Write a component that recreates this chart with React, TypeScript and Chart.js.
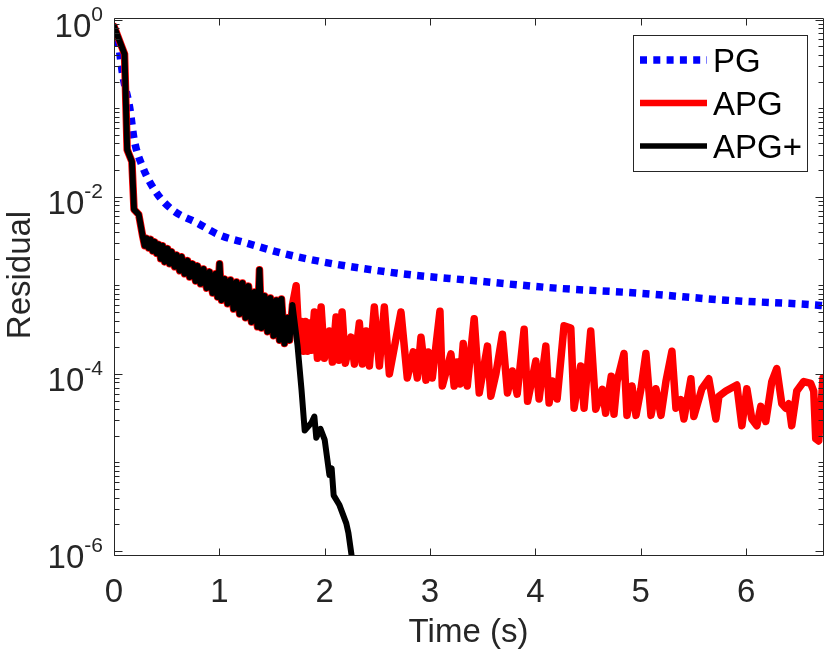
import React, { useEffect, useRef } from 'react';
import Chart from 'chart.js/auto';

// axis ticks
const xTickValues = [0, 1, 2, 3, 4, 5, 6];
const yMajorValues = [1, 1e-2, 1e-4, 1e-6];
const yMajorExponents = ['0', '-2', '-4', '-6'];
const seriesNames = ['PG', 'APG', 'APG+'];

// PG (dotted blue)
const pgTime = [0, 0.04, 0.085, 0.15, 0.19, 0.27, 0.405, 0.556, 0.784, 1.002, 1.258, 1.599, 1.98, 2.395, 2.83, 3.343, 4.196, 4.955, 5.808, 6.661, 6.73];
const pgResidual = [0.84, 0.55, 0.23, 0.1, 0.045, 0.022, 0.011, 7.1e-3, 5.1e-3, 3.7e-3, 3.0e-3, 2.3e-3, 1.84e-3, 1.53e-3, 1.31e-3, 1.15e-3, 9.3e-4, 8.2e-4, 6.8e-4, 6.0e-4, 5.9e-4];

// APG and APG+ run on the same iterates until ~1.7 s
const sharedTime = [
  0, 0.1, 0.125, 0.17, 0.19, 0.235,
  0.272, 0.291, 0.31, 0.329, 0.348, 0.367, 0.386, 0.405, 0.424, 0.443,
  0.462, 0.481, 0.509, 0.528, 0.547, 0.575, 0.594, 0.623, 0.642, 0.67,
  0.699, 0.718, 0.746, 0.774, 0.793, 0.822, 0.85, 0.879, 0.907, 0.936,
  0.964, 0.983, 1.002, 1.021, 1.05, 1.078, 1.106, 1.135, 1.163, 1.192,
  1.22, 1.248, 1.277, 1.305, 1.334, 1.362, 1.381, 1.4, 1.429, 1.457,
  1.485, 1.514, 1.542, 1.571, 1.59, 1.618, 1.647, 1.666, 1.694,
];
const sharedResidual = [
  0.84, 0.41, 0.034, 0.025, 0.0072, 0.0063,
  3.6e-3, 2.8e-3, 3.4e-3, 2.65e-3, 3.3e-3, 2.45e-3, 3.1e-3, 2.3e-3, 2.9e-3, 2.0e-3,
  2.8e-3, 1.84e-3, 2.6e-3, 1.75e-3, 2.4e-3, 1.62e-3, 2.2e-3, 1.46e-3, 2.1e-3, 1.35e-3,
  1.9e-3, 1.24e-3, 1.75e-3, 1.12e-3, 1.66e-3, 1.04e-3, 1.53e-3, 9.3e-4, 1.42e-3, 8.2e-4,
  1.35e-3, 7.4e-4, 1.75e-3, 6.8e-4, 1.18e-3, 6.2e-4, 1.15e-3, 5.4e-4, 1.09e-3, 4.75e-4,
  1.06e-3, 4.3e-4, 9.8e-4, 3.85e-4, 8.4e-4, 3.4e-4, 1.5e-3, 3.3e-4, 7.6e-4, 3.0e-4,
  7.2e-4, 2.7e-4, 6.8e-4, 2.4e-4, 7.0e-4, 2.2e-4, 4.3e-4, 2.4e-4, 6.0e-4,
];

// APG after the split (red)
const apgTailTime = [
  1.729, 1.76, 1.779, 1.798, 1.817, 1.836, 1.855, 1.874, 1.902, 1.931,
  1.966, 1.997, 2.045, 2.073, 2.108, 2.135, 2.165, 2.196, 2.25, 2.282,
  2.329, 2.357, 2.392, 2.424, 2.471, 2.519, 2.566, 2.614, 2.724, 2.784,
  2.841, 2.879, 2.914, 2.961, 2.983, 3.021, 3.094, 3.116, 3.198, 3.229,
  3.258, 3.286, 3.315, 3.353, 3.419, 3.467, 3.545, 3.577, 3.625, 3.687,
  3.735, 3.782, 3.827, 3.893, 3.926, 4.004, 4.035, 4.099, 4.13, 4.161,
  4.206, 4.272, 4.336, 4.367, 4.43, 4.462, 4.525, 4.573, 4.635, 4.667,
  4.72, 4.746, 4.775, 4.841, 4.869, 4.917, 4.955, 5.002, 5.049, 5.097,
  5.144, 5.192, 5.239, 5.296, 5.334, 5.381, 5.41, 5.476, 5.504, 5.58,
  5.646, 5.713, 5.742, 5.808, 5.912, 5.96, 6.007, 6.054, 6.102, 6.14,
  6.187, 6.244, 6.291, 6.339, 6.377, 6.405, 6.433, 6.481, 6.547, 6.613,
  6.642, 6.661, 6.689, 6.73,
];
const apgTailResidual = [
  9.9e-4, 1.9e-4, 3.9e-4, 1.8e-4, 3.9e-4, 1.8e-4, 3.75e-4, 1.85e-4, 5.0e-4, 1.5e-4,
  5.7e-4, 1.5e-4, 3.05e-4, 1.36e-4, 4.4e-4, 1.43e-4, 5.0e-4, 1.32e-4, 2.6e-4, 1.29e-4,
  3.75e-4, 1.29e-4, 3.05e-4, 1.23e-4, 5.7e-4, 1.23e-4, 5.7e-4, 1.0e-4, 5.0e-4, 9.0e-5,
  1.77e-4, 9.0e-5, 2.6e-4, 8.5e-5, 1.77e-4, 9.0e-5, 5.1e-4, 7.3e-5, 1.68e-4, 7.3e-5,
  1.36e-4, 7.7e-5, 2.2e-4, 7.3e-5, 4.2e-4, 6.1e-5, 2.06e-4, 5.6e-5, 1.0e-4, 2.8e-4,
  6.1e-5, 1.08e-4, 5.9e-5, 3.2e-4, 4.9e-5, 1.4e-4, 5.2e-5, 2.06e-4, 4.7e-5, 8.3e-5,
  5.2e-5, 3.5e-4, 3.3e-4, 4.1e-5, 1.23e-4, 4.1e-5, 3.05e-4, 4.0e-5, 6.7e-5, 3.6e-5,
  9.4e-5, 3.5e-5, 8.2e-5, 1.7e-4, 3.4e-5, 7.3e-5, 3.4e-5, 6.8e-5, 1.7e-4, 3.4e-5,
  6.8e-5, 3.4e-5, 8.2e-5, 1.8e-4, 4.1e-5, 5.1e-5, 3.1e-5, 8.8e-5, 3.3e-5, 6.8e-5,
  8.8e-5, 3.1e-5, 5.6e-5, 6.4e-5, 7.5e-5, 2.6e-5, 6.8e-5, 3.1e-5, 2.6e-5, 4.3e-5,
  2.9e-5, 8.2e-5, 1.15e-4, 4.6e-5, 4.1e-5, 4.6e-5, 2.6e-5, 6.4e-5, 8.2e-5, 7.8e-5,
  6.4e-5, 1.85e-5, 1.75e-5, 9.0e-5,
];

// APG+ after the split (black)
const plusTailTime = [1.742, 1.78, 1.81, 1.874, 1.902, 1.92, 1.96, 2.0, 2.045, 2.066, 2.085, 2.14, 2.205, 2.225, 2.262];
const plusTailResidual = [2.1e-4, 6.6e-5, 2.3e-5, 2.8e-5, 3.3e-5, 1.9e-5, 2.4e-5, 1.8e-5, 7.2e-6, 8.6e-6, 4.25e-6, 3.3e-6, 2.05e-6, 1.6e-6, 7.8e-7];

const apgTime = [...sharedTime, ...apgTailTime];
const apgResidual = [...sharedResidual, ...apgTailResidual];
const plusTime = [...sharedTime, ...plusTailTime];
const plusResidual = [...sharedResidual, ...plusTailResidual];

const AXIS = '#262626';
const FONT = '"Liberation Sans", Arial, Helvetica, sans-serif';
const BLUE = '#0000ff';
const RED = '#ff0000';
const BLACK = '#000000';
const PG_DASH = [7, 6.3];

const pts = (t: number[], r: number[]) => t.map((x, i) => ({ x, y: r[i] }));

const frame = {
  id: 'frame',
  afterDraw(chart: any) {
    const { ctx, chartArea: a } = chart;
    const xs = chart.scales.x;
    const ys = chart.scales.y;
    const L = Math.round(a.left) + 0.5;
    const R = Math.round(a.right) + 0.5;
    const T = Math.round(a.top) + 0.5;
    const B = Math.round(a.bottom) - 0.5;

    ctx.save();
    ctx.strokeStyle = AXIS;
    ctx.lineWidth = 1;
    ctx.beginPath();
    ctx.rect(L, T, R - L, B - T);
    xTickValues.forEach((v) => {
      const p = Math.round(xs.getPixelForValue(v)) + 0.5;
      ctx.moveTo(p, B); ctx.lineTo(p, B - 7);
      ctx.moveTo(p, T); ctx.lineTo(p, T + 7);
    });
    for (let e = 0; e >= -7; e--) {
      for (let m = 1; m < 10; m++) {
        const v = m * Math.pow(10, e);
        if (v < ys.min || v > ys.max) continue;
        const len = m === 1 && e % 2 === 0 ? 8 : 5;
        const p = Math.round(ys.getPixelForValue(v)) + 0.5;
        ctx.moveTo(L, p); ctx.lineTo(L + len, p);
        ctx.moveTo(R, p); ctx.lineTo(R - len, p);
      }
    }
    ctx.stroke();

    // tick labels
    ctx.fillStyle = AXIS;
    ctx.font = `33px ${FONT}`;
    ctx.textAlign = 'center';
    ctx.textBaseline = 'alphabetic';
    xTickValues.forEach((v) => ctx.fillText(String(v), xs.getPixelForValue(v), 602));

    ctx.textAlign = 'right';
    yMajorValues.forEach((v, i) => {
      const p = ys.getPixelForValue(v);
      ctx.font = `21px ${FONT}`;
      const w = ctx.measureText(yMajorExponents[i]).width;
      ctx.fillText(yMajorExponents[i], 103, p + 1.5);
      ctx.font = `33px ${FONT}`;
      ctx.fillText('10', 103 - w, p + 17.5);
    });

    // axis titles
    ctx.textAlign = 'center';
    ctx.font = `33px ${FONT}`;
    ctx.fillText('Time (s)', (a.left + a.right) / 2, 642);
    ctx.save();
    ctx.translate(30, 275);
    ctx.rotate(-Math.PI / 2);
    ctx.fillText('Residual', 0, 0);
    ctx.restore();

    // legend
    const bx = 633.5, by = 35.5, bw = 174, bh = 136;
    ctx.fillStyle = '#ffffff';
    ctx.fillRect(bx, by, bw, bh);
    ctx.strokeStyle = AXIS;
    ctx.lineWidth = 1;
    ctx.strokeRect(bx, by, bw, bh);
    const rows = [60, 103, 146];
    const styles = [
      { c: BLUE, w: 7.5, dash: PG_DASH },
      { c: RED, w: 6.7, dash: [] as number[] },
      { c: BLACK, w: 5.7, dash: [] as number[] },
    ];
    seriesNames.forEach((name, i) => {
      const s = styles[i];
      ctx.beginPath();
      ctx.strokeStyle = s.c;
      ctx.lineWidth = s.w;
      ctx.lineCap = 'butt';
      ctx.setLineDash(s.dash);
      ctx.moveTo(640, rows[i]);
      ctx.lineTo(707, rows[i]);
      ctx.stroke();
      ctx.setLineDash([]);
      ctx.fillStyle = '#000000';
      ctx.font = `33px ${FONT}`;
      ctx.textAlign = 'left';
      ctx.fillText(name, 713, rows[i] + 12);
    });
    ctx.restore();
  },
};

export default function App() {
  const ref = useRef<HTMLCanvasElement>(null);

  useEffect(() => {
    if (!ref.current) return;
    const chart = new Chart(ref.current, {
      type: 'line',
      data: {
        datasets: [
          {
            label: seriesNames[2],
            data: pts(plusTime, plusResidual),
            borderColor: BLACK,
            borderWidth: 6,
            borderJoinStyle: 'round',
            borderCapStyle: 'round',
            order: 0,
            clip: 0,
          },
          {
            label: seriesNames[1],
            data: pts(apgTime, apgResidual),
            borderColor: RED,
            borderWidth: 7.5,
            borderJoinStyle: 'round',
            borderCapStyle: 'round',
            order: 1,
            clip: 0,
          },
          {
            label: seriesNames[0],
            data: pts(pgTime, pgResidual),
            borderColor: BLUE,
            borderWidth: 7.5,
            borderDash: PG_DASH,
            borderCapStyle: 'butt',
            cubicInterpolationMode: 'monotone',
            order: 2,
            clip: 0,
          },
        ],
      } as any,
      options: {
        animation: false,
        responsive: true,
        maintainAspectRatio: false,
        events: [],
        layout: { padding: { top: 18, right: 7, left: 0, bottom: 0 } },
        elements: { point: { radius: 0 } },
        plugins: { legend: { display: false }, tooltip: { enabled: false } },
        scales: {
          x: {
            type: 'linear',
            min: 0,
            max: 6.73,
            ticks: { display: false },
            grid: { display: false },
            border: { display: false },
            afterFit: (s: any) => { s.height = 101; },
          },
          y: {
            type: 'logarithmic',
            min: 8.78e-7,
            max: 1.045,
            ticks: { display: false },
            grid: { display: false },
            border: { display: false },
            afterFit: (s: any) => { s.width = 114; },
          },
        },
      } as any,
      plugins: [frame],
    });
    return () => chart.destroy();
  }, []);

  return (
    <div style={{ position: 'absolute', left: 0, top: 0, width: 830, height: 657, background: '#fff' }}>
      <canvas ref={ref} />
    </div>
  );
}
